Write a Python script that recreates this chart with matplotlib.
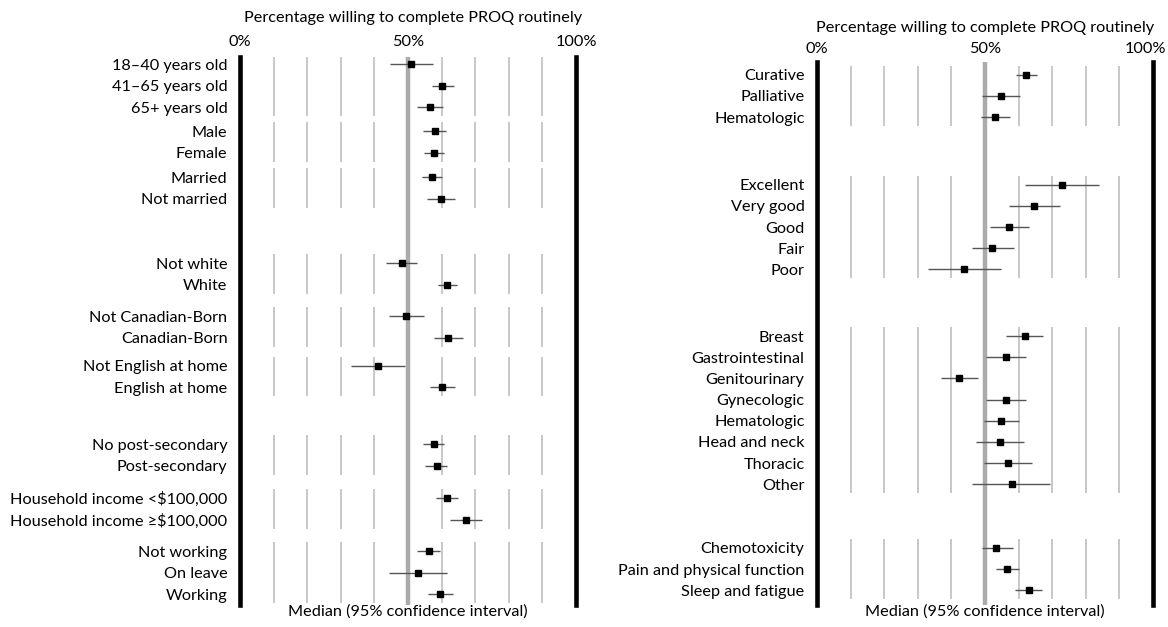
import matplotlib.pyplot as plt
from matplotlib.transforms import ScaledTranslation

plt.rcParams['font.family'] = ['Lato', 'DejaVu Sans']

# ---- left panel: patient characteristics ----
left_groups = [
    ["18–40 years old", "41–65 years old", "65+ years old"],
    ["Male", "Female"],
    ["Married", "Not married"],
    ["Not white", "White"],
    ["Not Canadian-Born", "Canadian-Born"],
    ["Not English at home", "English at home"],
    ["No post-secondary", "Post-secondary"],
    ["Household income <$100,000", "Household income ≥$100,000"],
    ["Not working", "On leave", "Working"],
]
left_median = [51.0, 60.1, 56.5, 57.9, 57.6, 57.0, 59.9, 48.2, 61.6, 49.4,
               61.8, 41.0, 60.1, 57.7, 58.5, 61.6, 67.3, 56.2, 53.0, 59.6]
left_low = [44.5, 57.0, 52.7, 54.4, 54.8, 54.1, 55.8, 43.6, 58.8, 44.4,
            57.6, 33.0, 56.5, 54.5, 55.2, 58.2, 62.5, 52.8, 44.3, 56.0]
left_high = [57.5, 63.6, 60.5, 61.3, 60.7, 60.1, 63.9, 52.7, 64.5, 54.8,
             66.4, 49.0, 63.9, 60.6, 61.7, 65.0, 72.0, 59.6, 61.6, 63.5]

# ---- right panel: disease / health characteristics ----
right_groups = [
    ["Curative", "Palliative", "Hematologic"],
    ["Excellent", "Very good", "Good", "Fair", "Poor"],
    ["Breast", "Gastrointestinal", "Genitourinary", "Gynecologic",
     "Hematologic", "Head and neck", "Thoracic", "Other"],
    ["Chemotoxicity", "Pain and physical function", "Sleep and fatigue"],
]
right_median = [62.2, 54.8, 53.1, 72.8, 64.7, 57.2, 52.1, 43.7, 61.9, 56.2,
                42.4, 56.2, 54.8, 54.4, 56.9, 57.9, 53.4, 56.6, 63.0]
right_low = [59.1, 49.0, 48.8, 61.9, 57.2, 51.5, 46.2, 33.0, 56.2, 50.4,
             37.0, 50.4, 49.6, 47.3, 49.8, 46.2, 49.0, 53.4, 59.0]
right_high = [65.6, 60.5, 57.4, 84.0, 72.2, 63.0, 58.5, 54.8, 67.4, 62.1,
              47.8, 62.1, 60.2, 61.5, 64.1, 69.4, 58.4, 60.1, 66.9]

# extra space between groups (in rows)
left_gaps = [0.12, 0.12, 2.0, 0.45, 0.3, 1.65, 0.5, 0.45]
right_gaps = [2.2, 2.15, 2.0]

TITLE = "Percentage willing to complete PROQ routinely"
FOOT = "Median (95% confidence interval)"
FS = 11.7


def draw_panel(ax, groups, med, lo, hi, gaps, top_m, bot_m, tick_pad):
    pos, labels, spans = [], [], []
    y = 0.0
    for gi, g in enumerate(groups):
        first = y
        for lab in g:
            pos.append(y)
            labels.append(lab)
            y += 1
        spans.append((first, y - 1))
        if gi < len(gaps):
            y += gaps[gi]

    for a, b in spans:
        ax.vlines([10, 20, 30, 40, 60, 70, 80, 90], a - 0.42, b + 0.42,
                  color='#c4c4c4', lw=1.3, zorder=1)
    ax.axvline(50, color='#ababab', lw=3.2, zorder=1)
    for x in (0, 100):
        ax.axvline(x, color='black', lw=3.3, clip_on=False, zorder=3)

    ax.hlines(pos, lo, hi, color='#555555', lw=1.0, zorder=2)
    ax.plot(med, pos, 's', color='black', ms=4.5, zorder=4)

    ax.set_xlim(0, 100)
    ax.set_ylim(pos[-1] + bot_m, -top_m)
    ax.set_yticks(pos)
    ax.set_yticklabels(labels, fontsize=FS)
    ax.tick_params(axis='y', length=0, pad=9)
    ax.xaxis.tick_top()
    ax.set_xticks([0, 50, 100])
    ax.set_xticklabels(['0%', '50%', '100%'], fontsize=FS)
    ax.tick_params(axis='x', length=0, pad=tick_pad)
    for s in ax.spines.values():
        s.set_visible(False)


def main():
    fig = plt.figure(figsize=(11.68, 6.27), dpi=100)
    W, H = 1168, 627

    # axes rectangles from pixel extents
    axL = fig.add_axes([240 / W, 1 - 605 / H, 336 / W, (605 - 57) / H])
    axR = fig.add_axes([817 / W, 1 - 605 / H, 336 / W, (605 - 62) / H])

    draw_panel(axL, left_groups, left_median, left_low, left_high,
               left_gaps, 0.33, 0.5, 6)
    draw_panel(axR, right_groups, right_median, right_low, right_high,
               right_gaps, 0.6, 0.7, 4.5)

    # the right panel's "100%" sits a little left of its line
    lab100 = axR.get_xticklabels()[-1]
    lab100.set_transform(lab100.get_transform() +
                         ScaledTranslation(-8 / 100, 0, fig.dpi_scale_trans))

    fig.text(413 / W, 1 - 18 / H, TITLE, ha='center', va='center', fontsize=FS)
    fig.text(985 / W, 1 - 28 / H, TITLE, ha='center', va='center', fontsize=FS)
    fig.text(408 / W, 1 - 612 / H, FOOT, ha='center', va='center', fontsize=FS)
    fig.text(985 / W, 1 - 612 / H, FOOT, ha='center', va='center', fontsize=FS)

    fig.savefig("out.png", dpi=100)


if __name__ == "__main__":
    main()
